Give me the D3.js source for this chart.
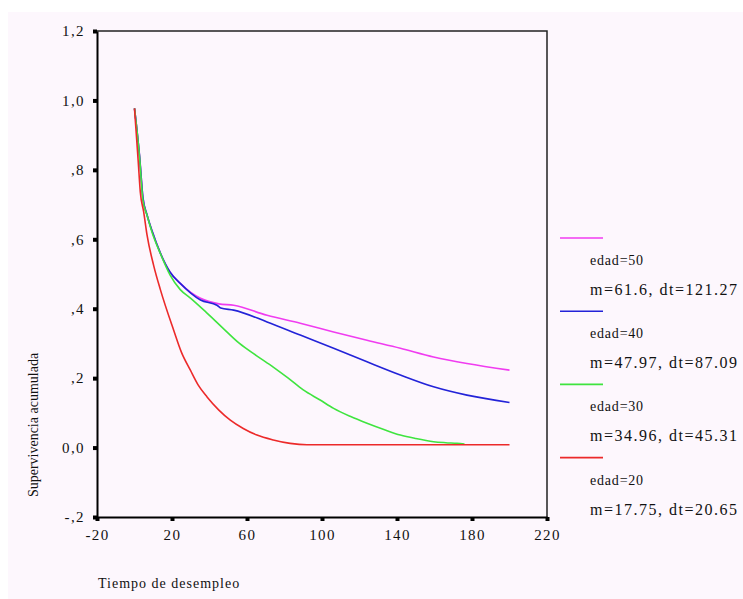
<!DOCTYPE html>
<html>
<head>
<meta charset="utf-8">
<script src="https://cdn.jsdelivr.net/npm/d3@7"></script>
<style>
  body { margin: 0; background: #ffffff; }
  svg text { font-family: "Liberation Serif", "DejaVu Serif", serif; fill: #111; }
</style>
</head>
<body>
<div id="canvas"></div>
<script>
// survival curves (tiempo, supervivencia)
let timeMag = [0, 1, 2.7, 4.5, 6.7, 9.3, 13.8, 19, 24.4, 30, 35.2, 45, 52.9, 70.7, 88.4, 106.2, 124, 141.8, 159.5, 177.3, 200];
let survMag = [0.977, 0.93, 0.84, 0.72, 0.67, 0.625, 0.56, 0.505, 0.473, 0.447, 0.43, 0.414, 0.41, 0.381, 0.358, 0.333, 0.309, 0.286, 0.261, 0.242, 0.223];

let timeBlue = [0, 1, 2.7, 4.5, 6.7, 9.3, 13.8, 19, 24.4, 30, 35.2, 44, 46, 52.9, 70.7, 88.4, 106.2, 124, 141.8, 159.5, 177.3, 200];
let survBlue = [0.977, 0.93, 0.84, 0.72, 0.67, 0.625, 0.56, 0.505, 0.473, 0.445, 0.425, 0.41, 0.402, 0.396, 0.362, 0.324, 0.286, 0.247, 0.209, 0.175, 0.151, 0.13];

let timeGreen = [0, 1, 2.7, 4.5, 6.7, 9.3, 13.8, 19, 24.4, 30, 38, 47, 56, 65, 74, 82, 90, 99, 106.2, 115, 124, 133, 141.8, 150, 159.5, 166, 172, 176];
let survGreen = [0.977, 0.93, 0.837, 0.712, 0.669, 0.621, 0.559, 0.497, 0.455, 0.43, 0.391, 0.345, 0.3, 0.265, 0.232, 0.2, 0.166, 0.137, 0.113, 0.09, 0.07, 0.052, 0.036, 0.026, 0.017, 0.014, 0.012, 0.01];

let timeRed = [0, 0.5, 2, 3.1, 4.9, 6.7, 10.2, 13.8, 20.9, 25, 29.8, 34, 38.7, 45, 51.1, 58, 65.3, 74, 83, 92, 200];
let survRed = [0.977, 0.938, 0.823, 0.736, 0.679, 0.612, 0.525, 0.455, 0.338, 0.275, 0.223, 0.18, 0.146, 0.108, 0.079, 0.055, 0.036, 0.022, 0.012, 0.008, 0.008];

let series = [
    { name: "edad=50", stats: "m=61.6, dt=121.27", color: "#f03cf0", t: timeMag, s: survMag },
    { name: "edad=40", stats: "m=47.97, dt=87.09", color: "#2323d8", t: timeBlue, s: survBlue },
    { name: "edad=30", stats: "m=34.96, dt=45.31", color: "#3fe43f", t: timeGreen, s: survGreen },
    { name: "edad=20", stats: "m=17.75, dt=20.65", color: "#ec2a2a", t: timeRed, s: survRed }
];

let xTicks = [-20, 20, 60, 100, 140, 180, 220];
let yTicks = [-0.2, 0, 0.2, 0.4, 0.6, 0.8, 1.0, 1.2];
let yTickLabels = ["-,2", "0,0", ",2", ",4", ",6", ",8", "1,0", "1,2"];

let W = 743, H = 599;
let margin = { top: 31, right: 196, bottom: 82, left: 97 };

let svg = d3.select("#canvas")
    .append("svg")
    .attr("width", W)
    .attr("height", H);

// pale pink page background
svg.append("rect")
    .attr("x", 8).attr("y", 12)
    .attr("width", W - 8).attr("height", H - 12)
    .attr("fill", "#fdf7fd");

let x = d3.scaleLinear()
    .domain([-20, 220])
    .range([margin.left, W - margin.right]);

let y = d3.scaleLinear()
    .domain([-0.2, 1.2])
    .range([H - margin.bottom, margin.top]);

// frame top + right
svg.append("path")
    .attr("d", `M${x(-20)},${y(1.2)}H${x(220)}V${y(-0.2)}`)
    .attr("fill", "none")
    .attr("stroke", "#222")
    .attr("stroke-width", 1.5);

let xAxis = svg.append("g")
    .attr("transform", `translate(0,${y(-0.2)})`)
    .call(d3.axisBottom(x).tickValues(xTicks).tickSize(4).tickPadding(8).tickSizeOuter(0)
        .tickFormat(d => String(d)));

let yAxis = svg.append("g")
    .attr("transform", `translate(${x(-20)},0)`)
    .call(d3.axisLeft(y).tickValues(yTicks).tickSize(4).tickPadding(8).tickSizeOuter(0)
        .tickFormat((d, i) => yTickLabels[i]));

[xAxis, yAxis].forEach(g => {
    g.select(".domain").attr("stroke", "#000").attr("stroke-width", 2);
    g.selectAll(".tick line").attr("stroke", "#000").attr("stroke-width", 4);
    g.selectAll(".tick text")
        .style("font-family", "'Liberation Serif', serif")
        .style("font-size", "15px")
        .style("letter-spacing", "1.4px")
        .attr("fill", "#111");
});

let line = d3.line()
    .x(d => x(d[0]))
    .y(d => y(d[1]))
    .curve(d3.curveMonotoneX);

svg.append("g")
    .selectAll("path")
    .data(series)
    .join("path")
    .attr("d", d => line(d.t.map((t, i) => [t, d.s[i]])))
    .attr("fill", "none")
    .attr("stroke", d => d.color)
    .attr("stroke-width", 1.6)
    .attr("stroke-linejoin", "round");

// legend
let legend = svg.append("g")
    .selectAll("g")
    .data(series)
    .join("g")
    .attr("transform", (d, i) => `translate(560,${238 + i * 73.2})`);

legend.append("line")
    .attr("x1", 0).attr("x2", 43)
    .attr("y1", 0).attr("y2", 0)
    .attr("stroke", d => d.color)
    .attr("stroke-width", 1.6);

legend.append("text")
    .attr("x", 30).attr("y", 27)
    .style("font-size", "14px")
    .style("letter-spacing", "0.8px")
    .text(d => d.name);

legend.append("text")
    .attr("x", 30).attr("y", 57)
    .style("font-size", "16px")
    .style("letter-spacing", "1.5px")
    .text(d => d.stats);

svg.append("text")
    .attr("transform", `translate(38,${425}) rotate(-90)`)
    .attr("text-anchor", "middle")
    .style("font-size", "14px")
    .text("Supervivencia acumulada");

svg.append("text")
    .attr("x", 98).attr("y", 588)
    .style("font-size", "14px")
    .style("letter-spacing", "1px")
    .text("Tiempo de desempleo");
</script>
</body>
</html>
